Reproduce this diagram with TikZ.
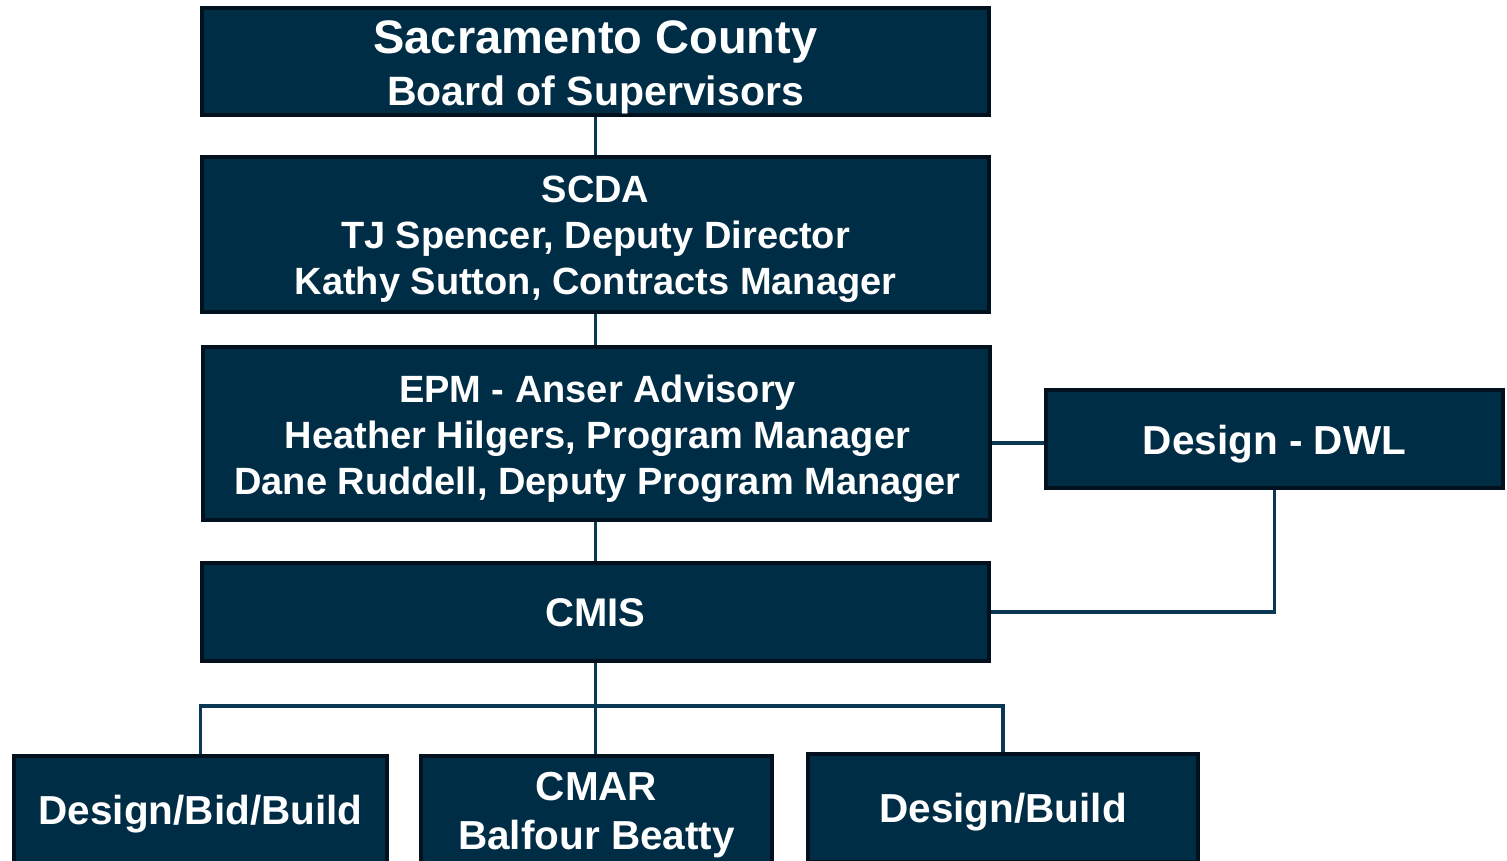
\documentclass[tikz,border=0pt]{standalone}
\usepackage{fontspec}
\setmainfont{Liberation Sans}
\usetikzlibrary{backgrounds}
\definecolor{boxfill}{RGB}{0,45,70}
\definecolor{boxedge}{RGB}{2,17,29}
\definecolor{linkcol}{RGB}{10,56,84}
\tikzset{
  orgbox/.style={draw=boxedge, line width=4pt, fill=boxfill, inner sep=0pt, rectangle},
  orgtext/.style={text=white, font=\bfseries, align=center, inner sep=0pt},
  link/.style={draw=linkcol, line width=3.5pt}
}
\begin{document}
\begin{tikzpicture}[x=1pt,y=-1pt]
\useasboundingbox (0,0) rectangle (1507,861);
\clip (0,0) rectangle (1507,861);
% boxes
\node[orgbox, minimum width=787pt, minimum height=107pt] (board) at (595.5,61.5) {};
\node[orgbox, minimum width=787pt, minimum height=155pt] (scda) at (595.5,234.5) {};
\node[orgbox, minimum width=787pt, minimum height=173pt] (epm) at (596.5,433.5) {};
\node[orgbox, minimum width=457pt, minimum height=98pt] (dwl) at (1274.5,439) {};
\node[orgbox, minimum width=787pt, minimum height=98pt] (cmis) at (595.5,612) {};
\node[orgbox, minimum width=373pt, minimum height=108pt] (dbb) at (200.5,810) {};
\node[orgbox, minimum width=351pt, minimum height=108pt] (cmar) at (596.5,810) {};
\node[orgbox, minimum width=390pt, minimum height=108pt] (db) at (1003,808) {};
% texts
\node[orgtext, font=\bfseries\fontsize{41}{52}\selectfont] (board-t) at ([yshift=-5.5pt]board.center)
  {{\fontsize{47}{52}\selectfont Sacramento County}\\Board of Supervisors};
\node[orgtext, font=\bfseries\fontsize{38}{46}\selectfont] (scda-t) at ([yshift=-5pt]scda.center)
  {SCDA\\TJ Spencer, Deputy Director\\Kathy Sutton, Contracts Manager};
\node[orgtext, font=\bfseries\fontsize{38}{46}\selectfont] (epm-t) at ([yshift=-5pt,xshift=1pt]epm.center)
  {EPM - Anser Advisory\\Heather Hilgers, Program Manager\\Dane Ruddell, Deputy Program Manager};
\node[orgtext, font=\bfseries\fontsize{40.5}{49}\selectfont] (dwl-t) at ([yshift=-5pt]dwl.center) {Design - DWL};
\node[orgtext, font=\bfseries\fontsize{40}{49}\selectfont] (cmis-t) at ([yshift=-1pt]cmis.center) {CMIS};
\node[orgtext, font=\bfseries\fontsize{40.5}{49}\selectfont] (dbb-t) at ([yshift=-4pt]dbb.center) {Design/Bid/Build};
\node[orgtext, font=\bfseries\fontsize{40.5}{49}\selectfont] (cmar-t) at ([yshift=-5pt]cmar.center) {CMAR\\Balfour Beatty};
\node[orgtext, font=\bfseries\fontsize{40.5}{49}\selectfont] (db-t) at ([yshift=-4pt]db.center) {Design/Build};
% connectors
\coordinate (bus) at (595.5,706);
\coordinate (epmr) at ([yshift=-4pt]dwl.west);
\begin{scope}[on background layer]
  \draw[link] (board.south) -- (board.south |- scda.north);
  \draw[link] (scda.south) -- (scda.south |- epm.north);
  \draw[link] (cmis.north) -- (cmis.north |- epm.south);
  \draw[link] (epmr) -- (epmr -| epm.east);
  \draw[link] (dwl.south) |- (cmis.east);
  \draw[link] (cmis.south) -- (cmis.south |- cmar.north);
  \draw[link] (dbb.north) |- (bus) -| (db.north);
\end{scope}
\end{tikzpicture}
\end{document}
